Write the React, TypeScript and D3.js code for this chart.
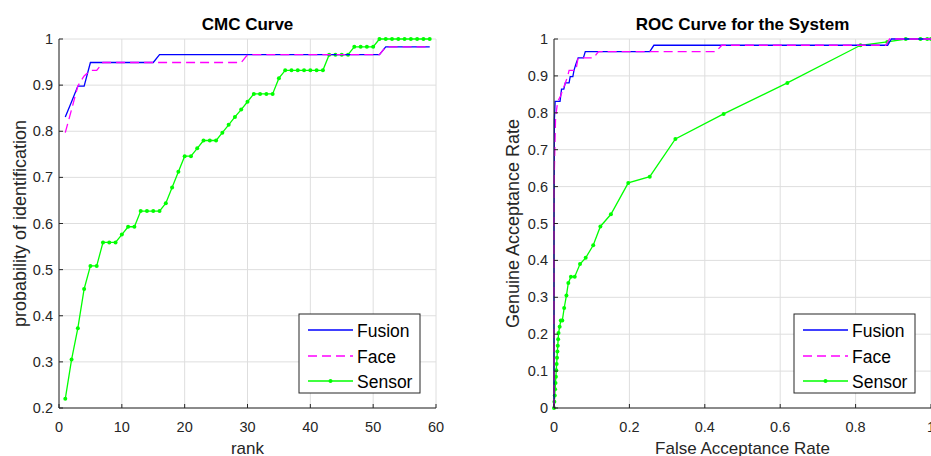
import React from "react";
import * as d3 from "d3";

const ranks = [1,2,3,4,5,6,7,8,9,10,11,12,13,14,15,16,17,18,19,20,21,22,23,24,25,26,27,28,29,30,31,32,33,34,35,36,37,38,39,40,41,42,43,44,45,46,47,48,49,50,51,52,53,54,55,56,57,58,59];
const cmcFusion = [0.831,0.864,0.898,0.898,0.949,0.949,0.949,0.949,0.949,0.949,0.949,0.949,0.949,0.949,0.949,0.966,0.966,0.966,0.966,0.966,0.966,0.966,0.966,0.966,0.966,0.966,0.966,0.966,0.966,0.966,0.966,0.966,0.966,0.966,0.966,0.966,0.966,0.966,0.966,0.966,0.966,0.966,0.966,0.966,0.966,0.966,0.966,0.966,0.966,0.966,0.966,0.983,0.983,0.983,0.983,0.983,0.983,0.983,0.983];
const cmcFace = [0.797,0.847,0.898,0.920,0.932,0.932,0.949,0.949,0.949,0.949,0.949,0.949,0.949,0.949,0.949,0.949,0.949,0.949,0.949,0.949,0.949,0.949,0.949,0.949,0.949,0.949,0.949,0.949,0.949,0.966,0.966,0.966,0.966,0.966,0.966,0.966,0.966,0.966,0.966,0.966,0.966,0.966,0.966,0.966,0.966,0.966,0.966,0.966,0.966,0.966,0.966,0.983,0.983,0.983,0.983,0.983,0.983,0.983,0.983];
const cmcSensor = [0.220,0.305,0.373,0.458,0.508,0.508,0.559,0.559,0.559,0.576,0.593,0.593,0.627,0.627,0.627,0.627,0.644,0.678,0.712,0.746,0.746,0.763,0.780,0.780,0.780,0.797,0.814,0.831,0.847,0.864,0.881,0.881,0.881,0.881,0.915,0.932,0.932,0.932,0.932,0.932,0.932,0.932,0.966,0.966,0.966,0.966,0.983,0.983,0.983,0.983,1,1,1,1,1,1,1,1,1];

const rocFusionFar = [0,0,0.001,0.003,0.016,0.02,0.026,0.03,0.04,0.043,0.05,0.053,0.058,0.064,0.078,0.083,0.254,0.265,0.885,0.895,1];
const rocFusionGar = [0,0.5,0.78,0.831,0.831,0.864,0.864,0.881,0.881,0.898,0.898,0.915,0.932,0.949,0.949,0.966,0.966,0.983,0.983,1,1];
const rocFaceFar = [0,0,0.004,0.007,0.01,0.018,0.024,0.03,0.036,0.04,0.058,0.064,0.105,0.118,0.43,0.445,0.88,0.89,1];
const rocFaceGar = [0,0.6,0.78,0.81,0.831,0.847,0.864,0.881,0.898,0.915,0.915,0.949,0.949,0.966,0.966,0.983,0.983,1,1];
const rocSensorFar = [0,0.001,0.002,0.003,0.004,0.005,0.006,0.007,0.008,0.009,0.01,0.011,0.012,0.015,0.018,0.022,0.027,0.033,0.038,0.045,0.055,0.069,0.084,0.104,0.123,0.151,0.197,0.254,0.322,0.45,0.619,0.813,0.884,0.933,0.972,0.99,1];
const rocSensorGar = [0,0.017,0.034,0.051,0.068,0.085,0.102,0.119,0.136,0.153,0.169,0.186,0.203,0.22,0.237,0.237,0.271,0.305,0.339,0.356,0.356,0.39,0.407,0.441,0.492,0.525,0.61,0.627,0.729,0.797,0.881,0.983,0.992,1,1,1,1];

const cmcXTicks = [0,10,20,30,40,50,60];
const cmcYTicks = [0.2,0.3,0.4,0.5,0.6,0.7,0.8,0.9,1];
const rocXTicks = [0,0.2,0.4,0.6,0.8,1];
const rocYTicks = [0,0.1,0.2,0.3,0.4,0.5,0.6,0.7,0.8,0.9,1];
const seriesNames = ["Fusion","Face","Sensor"];

const FONT = "'Liberation Sans', Arial, Helvetica, sans-serif";
const AXC = "#262626";
const GRID = "#dedede";
const BLUE = "#0000ff";
const MAG = "#ff00ff";
const GREEN = "#00ff00";

type Pt = [number, number];

function Panel(props: {
  x0: number; x1: number; y0: number; y1: number;
  xDomain: [number, number]; yDomain: [number, number];
  xTicks: number[]; yTicks: number[];
  fmt: (v: number) => string;
  title: string; xLabel: string; yLabel: string; yLabelX: number;
  fusion: Pt[]; face: Pt[]; sensor: Pt[];
  legendX: number;
}) {
  const { x0, x1, y0, y1 } = props;
  const xs = d3.scaleLinear().domain(props.xDomain).range([x0, x1]);
  const ys = d3.scaleLinear().domain(props.yDomain).range([y1, y0]);
  const line = d3.line<Pt>().x(d => xs(d[0])).y(d => ys(d[1]));
  const cx = (x0 + x1) / 2;
  const cy = (y0 + y1) / 2;
  const lx = props.legendX;
  const rows = [330, 356, 381];
  return (
    <g>
      {props.xTicks.map((t, i) => (
        <line key={"gx" + i} x1={xs(t)} x2={xs(t)} y1={y0} y2={y1} stroke={GRID} strokeWidth={1} />
      ))}
      {props.yTicks.map((t, i) => (
        <line key={"gy" + i} x1={x0} x2={x1} y1={ys(t)} y2={ys(t)} stroke={GRID} strokeWidth={1} />
      ))}
      <path d={line(props.sensor) || ""} fill="none" stroke={GREEN} strokeWidth={1.3} />
      {props.sensor.map((d, i) => (
        <circle key={"m" + i} cx={xs(d[0])} cy={ys(d[1])} r={2} fill={GREEN} />
      ))}
      <path d={line(props.fusion) || ""} fill="none" stroke={BLUE} strokeWidth={1.3} />
      <path d={line(props.face) || ""} fill="none" stroke={MAG} strokeWidth={1.3} strokeDasharray="9,5" />
      <line x1={x0} x2={x0} y1={y0} y2={y1} stroke={AXC} strokeWidth={1} />
      <line x1={x0} x2={x1} y1={y1} y2={y1} stroke={AXC} strokeWidth={1} />
      {props.xTicks.map((t, i) => (
        <g key={"tx" + i}>
          <line x1={xs(t)} x2={xs(t)} y1={y1} y2={y1 - 4} stroke={AXC} />
          <text x={xs(t)} y={431.5} textAnchor="middle" fontSize={14.5} fill={AXC} fontFamily={FONT}>{props.fmt(t)}</text>
        </g>
      ))}
      {props.yTicks.map((t, i) => (
        <g key={"ty" + i}>
          <line x1={x0} x2={x0 + 4} y1={ys(t)} y2={ys(t)} stroke={AXC} />
          <text x={x0 - 6} y={ys(t) + 5} textAnchor="end" fontSize={14.5} fill={AXC} fontFamily={FONT}>{props.fmt(t)}</text>
        </g>
      ))}
      <text x={cx} y={30} textAnchor="middle" fontSize={17} fontWeight="bold" fill="#000" fontFamily={FONT}>{props.title}</text>
      <text x={cx} y={453.5} textAnchor="middle" fontSize={17} fill={AXC} fontFamily={FONT}>{props.xLabel}</text>
      <text transform={`translate(${props.yLabelX},${cy}) rotate(-90)`} textAnchor="middle" fontSize={18} fill={AXC} fontFamily={FONT}>{props.yLabel}</text>
      <rect x={lx} y={314} width={121} height={79} fill="#fff" stroke={AXC} strokeWidth={1} />
      {seriesNames.map((n, i) => (
        <g key={"lg" + i}>
          <line x1={lx + 9} x2={lx + 54} y1={rows[i]} y2={rows[i]}
            stroke={i === 0 ? BLUE : i === 1 ? MAG : GREEN} strokeWidth={1.3}
            strokeDasharray={i === 1 ? "9,5" : undefined} />
          {i === 2 && <circle cx={lx + 31.5} cy={rows[i]} r={2} fill={GREEN} />}
          <text x={lx + 58} y={rows[i] + 6.5} fontSize={17.5} fill="#000" fontFamily={FONT}>{n}</text>
        </g>
      ))}
    </g>
  );
}

export default function App() {
  const cmcF: Pt[] = ranks.map((r, i) => [r, cmcFusion[i]]);
  const cmcFa: Pt[] = ranks.map((r, i) => [r, cmcFace[i]]);
  const cmcS: Pt[] = ranks.map((r, i) => [r, cmcSensor[i]]);
  const rocF: Pt[] = rocFusionFar.map((x, i) => [x, rocFusionGar[i]]);
  const rocFa: Pt[] = rocFaceFar.map((x, i) => [x, rocFaceGar[i]]);
  const rocS: Pt[] = rocSensorFar.map((x, i) => [x, rocSensorGar[i]]);
  const fmt = (v: number) => d3.format("~g")(+v.toFixed(2));
  return (
    <svg width={931} height={456} style={{ position: "absolute", left: 0, top: 0, background: "#fff" }}>
      <rect x={0} y={0} width={931} height={456} fill="#fff" />
      <Panel x0={59} x1={436} y0={39} y1={408} xDomain={[0, 60]} yDomain={[0.2, 1]}
        xTicks={cmcXTicks} yTicks={cmcYTicks} fmt={fmt}
        title="CMC Curve" xLabel="rank" yLabel="probability of identification" yLabelX={26}
        fusion={cmcF} face={cmcFa} sensor={cmcS} legendX={299} />
      <Panel x0={554} x1={931} y0={39} y1={408} xDomain={[0, 1]} yDomain={[0, 1]}
        xTicks={rocXTicks} yTicks={rocYTicks} fmt={fmt}
        title="ROC Curve for the System" xLabel="False Acceptance Rate" yLabel="Genuine Acceptance Rate" yLabelX={519}
        fusion={rocF} face={rocFa} sensor={rocS} legendX={794} />
    </svg>
  );
}
